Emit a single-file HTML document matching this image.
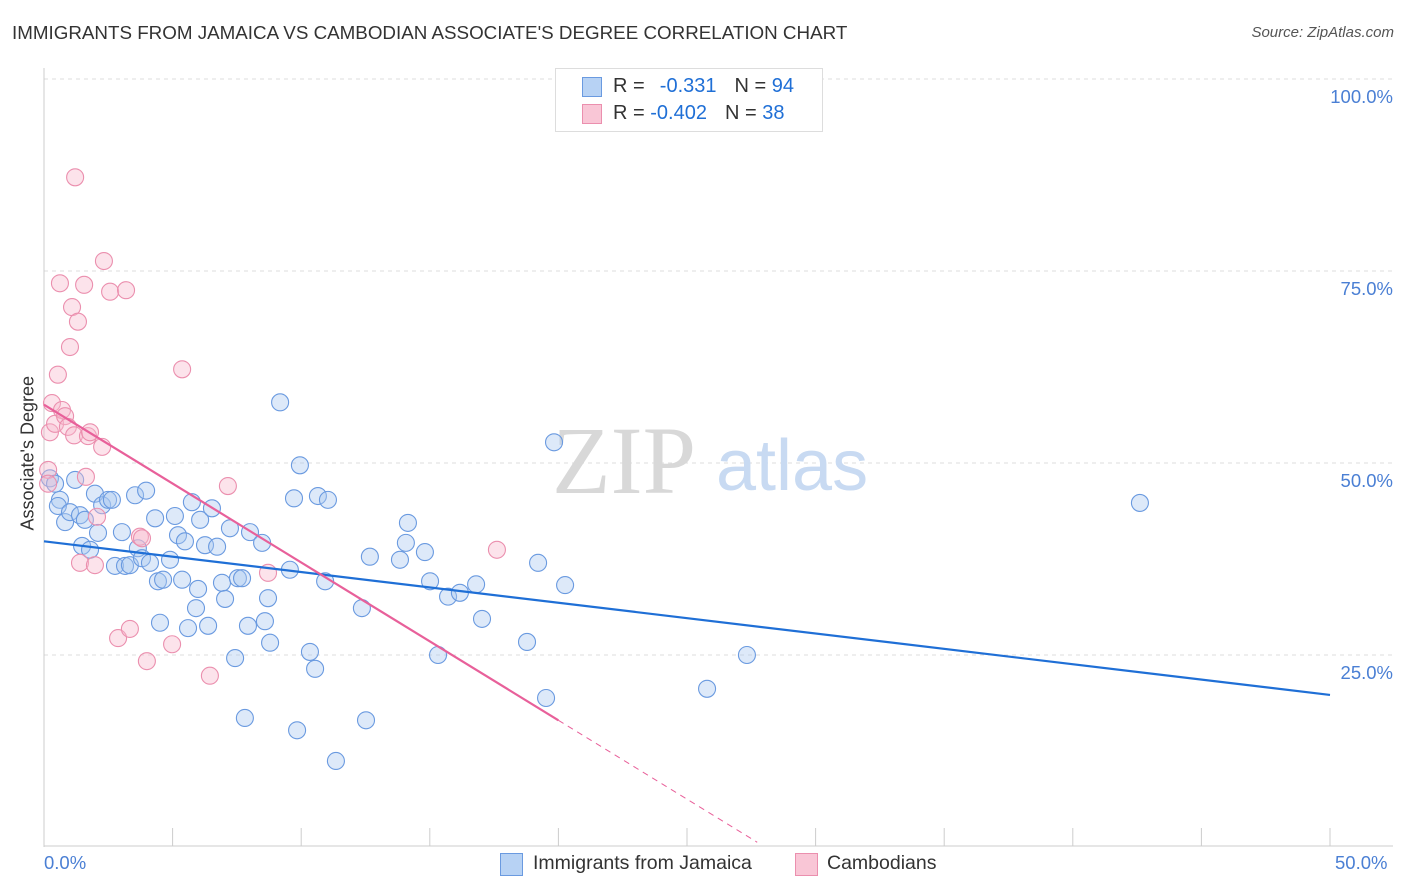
<!DOCTYPE html>
<html><head><meta charset="utf-8">
<style>
body{margin:0;background:#fff;font-family:"Liberation Sans",sans-serif;}
#wrap{position:relative;width:1406px;height:892px;overflow:hidden;}
.t{position:absolute;white-space:nowrap;}
</style></head><body>
<div id="wrap">
<div class="t" style="left:12px;top:22px;font-size:18.8px;color:#333;">IMMIGRANTS FROM JAMAICA VS CAMBODIAN ASSOCIATE'S DEGREE CORRELATION CHART</div>
<div class="t" style="right:12px;top:24px;font-size:15px;color:#555;font-style:italic;">Source: ZipAtlas.com</div>
<svg id="svg" width="1406" height="892" style="position:absolute;left:0;top:0"></svg>
</div>
<script>
const blueX=[0.23,0.43,0.62,0.54,0.82,1.01,1.21,1.40,1.59,1.48,1.79,1.98,2.10,2.26,2.49,2.64,2.76,3.03,3.15,3.34,3.54,3.65,3.81,3.97,4.12,4.32,4.43,4.51,4.63,4.90,5.09,5.21,5.37,5.48,5.60,5.75,5.91,5.99,6.07,6.26,6.38,6.53,6.73,6.92,7.04,7.23,7.43,7.54,7.70,7.81,7.93,8.01,8.48,8.59,8.71,8.79,9.18,9.56,9.72,9.84,9.95,10.34,10.54,10.65,10.93,11.04,11.35,12.36,12.52,12.67,13.84,14.07,14.15,14.81,15.01,15.32,15.71,16.17,16.80,17.03,18.78,19.21,19.52,19.83,20.26,25.78,27.33,42.61];
const blueY=[48.0,47.3,45.2,44.4,42.3,43.6,47.8,43.2,42.6,39.2,38.7,46.0,40.9,44.5,45.2,45.2,36.6,41.0,36.6,36.7,45.8,38.9,37.6,46.4,37.0,42.8,34.6,29.2,34.8,37.4,43.1,40.6,34.8,39.8,28.5,44.9,31.1,33.6,42.6,39.3,28.8,44.1,39.1,34.4,32.3,41.5,24.6,35.0,35.0,16.8,28.8,41.0,39.6,29.4,32.4,26.6,57.9,36.1,45.4,15.2,49.7,25.4,23.2,45.7,34.6,45.2,11.2,31.1,16.5,37.8,37.4,39.6,42.2,38.4,34.6,25.0,32.6,33.1,34.2,29.7,26.7,37.0,19.4,52.7,34.1,20.6,25.0,44.8];
const pinkX=[0.16,0.23,0.31,0.43,0.54,0.62,0.70,0.82,0.93,1.01,1.09,1.17,1.21,1.32,1.40,1.56,1.63,1.71,1.79,1.98,2.06,2.26,2.33,2.57,2.88,3.19,3.34,3.73,3.81,4.00,4.98,5.37,6.45,7.15,8.71,17.61,0.16];
const pinkY=[49.1,54.0,57.8,55.1,61.5,73.4,56.9,56.1,54.7,65.1,70.3,53.6,87.2,68.4,37.0,73.2,48.2,53.5,54.0,36.7,43.0,52.1,76.3,72.3,27.2,72.5,28.4,40.4,40.2,24.2,26.4,62.2,22.3,47.0,35.7,38.7,47.3];
const blueLine=[39.8,19.8];
const pinkLine=[57.6,16.5];
const yTicks=[25,50,75,100];
const NS="http://www.w3.org/2000/svg";
const svg=document.getElementById('svg');
const X=v=>44+v*25.72, Y=v=>847-v*7.68;
function el(t,a){const e=document.createElementNS(NS,t);for(const k in a)e.setAttribute(k,a[k]);svg.appendChild(e);return e;}
yTicks.forEach(t=>{const g=el('line',{x1:44,x2:1393,y1:Y(t),y2:Y(t),stroke:'#ddd','stroke-dasharray':'4,4'});


const l=el('text',{x:1393,y:Y(t)+24,'text-anchor':'end','font-size':18.5,fill:'#4a7fd4','font-family':'Liberation Sans'});l.textContent=t.toFixed(1)+'%';

});
const ax=el('line',{x1:44,x2:44,y1:68,y2:847,stroke:'#ccc'});


const bx=el('line',{x1:44,x2:1393,y1:846,y2:846,stroke:'#ccc'});


for(let i=0;i<=10;i++){const k=el('line',{x1:X(i*5),x2:X(i*5),y1:828,y2:846,stroke:'#ccc'});

}
const w1=el('text',{x:552,y:493,'font-size':96,fill:'#d8d8d8','font-family':'Liberation Serif'});w1.textContent='ZIP';


const w2=el('text',{x:716,y:490,'font-size':72,fill:'#c8daf2','font-family':'Liberation Sans'});w2.textContent='atlas';


function dots(xs,ys,fill,stroke,name){xs.forEach((x,i)=>{const c=el('circle',{cx:X(x),cy:Y(ys[i]),r:8.5,fill:fill,'fill-opacity':0.4,stroke:stroke,'stroke-width':1.1});

});}
dots(blueX,blueY,'#a9c8f0','#6a9ae0','jamaica-point');
dots(pinkX,pinkY,'#f7b8cc','#eb8fae','cambodian-point');
const bl=el('line',{x1:X(0),y1:Y(blueLine[0]),x2:X(50),y2:Y(blueLine[1]),stroke:'#1f6fd6','stroke-width':2.2});


const slope=(pinkLine[1]-pinkLine[0])/20;
const pl=el('line',{x1:X(0),y1:Y(pinkLine[0]),x2:X(20),y2:Y(pinkLine[1]),stroke:'#e8609a','stroke-width':2.2});


const xe=-pinkLine[0]/slope-0.3;
const pd=el('line',{x1:X(20),y1:Y(pinkLine[1]),x2:X(xe),y2:Y(pinkLine[0]+slope*xe),stroke:'#e8609a','stroke-width':1,'stroke-dasharray':'6,5'});


</script>
<div class="t" style="left:-47px;top:445px;transform:rotate(-90deg);font-size:18px;color:#333;width:150px;text-align:center;">Associate's Degree</div>
<div class="t" style="left:44px;top:852px;font-size:18.5px;color:#4a7fd4;">0.0%</div>
<div class="t" style="left:1335px;top:852px;font-size:18.5px;color:#4a7fd4;">50.0%</div>
<div style="position:absolute;left:555px;top:68px;width:266px;height:62px;border:1px solid #ddd;background:#fff;font-size:20px;color:#333;">
 <div style="position:absolute;left:26px;top:8px;width:18px;height:18px;background:#b7d2f4;border:1px solid #6a9ae0;"></div>
 <div class="t" style="left:57px;top:6px;">R = &nbsp;<span style="color:#1f6fd6;margin-left:4px">-0.331</span><span style="margin-left:18px">N =</span> <span style="color:#1f6fd6">94</span></div>
 <div style="position:absolute;left:26px;top:35px;width:18px;height:18px;background:#f9c6d6;border:1px solid #eb8fae;"></div>
 <div class="t" style="left:57px;top:33px;">R = <span style="color:#1f6fd6">-0.402</span><span style="margin-left:18px">N =</span> <span style="color:#1f6fd6">38</span></div>
</div>
<div style="position:absolute;left:500px;top:852px;font-size:19.5px;color:#333;">
 <div style="position:absolute;left:0;top:1px;width:21px;height:21px;background:#b7d2f4;border:1px solid #6a9ae0;"></div>
 <div class="t" style="left:33px;top:0px;">Immigrants from Jamaica</div>
 <div style="position:absolute;left:295px;top:1px;width:21px;height:21px;background:#f9c6d6;border:1px solid #eb8fae;"></div>
 <div class="t" style="left:327px;top:0px;">Cambodians</div>
</div>
</body></html>
